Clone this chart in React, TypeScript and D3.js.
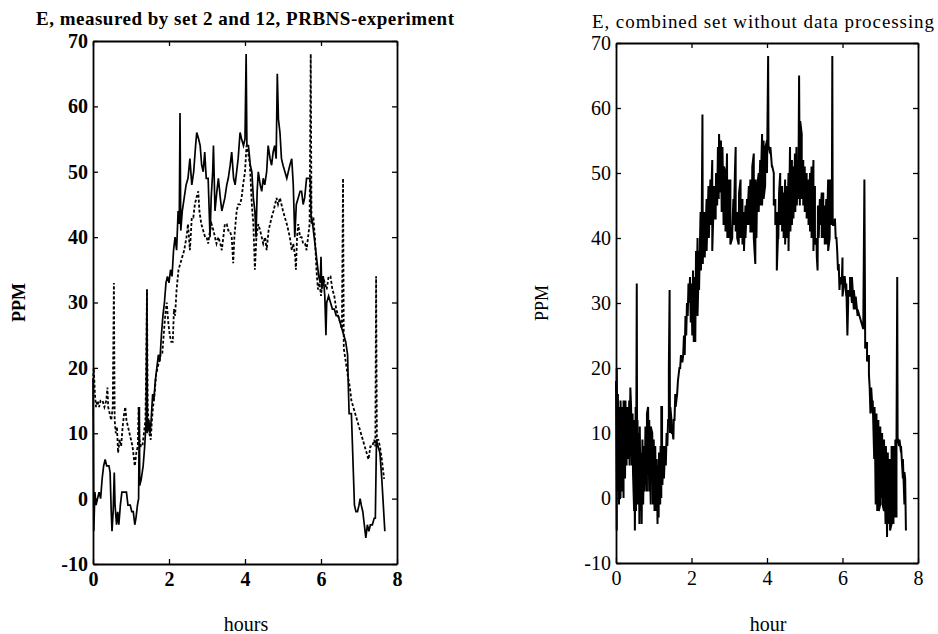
import React, { useEffect, useRef } from 'react';
import * as d3 from 'd3';

// set 2 (solid line), [hour, ppm]
const set2: [number, number][] = [
  [0, 18], [0.02, -5], [0.05, 1], [0.08, -1], [0.12, 0], [0.16, 1], [0.2, 0], [0.24, 3],
  [0.28, 5], [0.32, 6], [0.36, 5], [0.42, 5], [0.45, 4], [0.48, -2], [0.5, -5], [0.53, -2],
  [0.56, 4], [0.58, -1], [0.62, -4], [0.65, -2], [0.68, -4], [0.72, -1], [0.76, 1], [0.82, 1],
  [0.88, 1], [0.92, -1], [0.98, -1], [1.02, -2], [1.06, -2], [1.1, -4], [1.13, -3], [1.17, -1],
  [1.2, 0], [1.22, 14], [1.23, 2], [1.27, 3], [1.32, 5], [1.36, 8], [1.4, 12], [1.42, 32],
  [1.43, 10], [1.47, 12], [1.5, 10], [1.53, 12], [1.57, 16], [1.6, 15], [1.64, 18], [1.68, 20],
  [1.72, 22], [1.76, 21], [1.8, 25], [1.84, 28], [1.88, 30], [1.92, 33], [1.96, 34], [2.0, 33],
  [2.04, 35], [2.08, 34], [2.12, 38], [2.16, 40], [2.2, 38], [2.24, 44], [2.27, 42], [2.29, 59],
  [2.31, 41], [2.35, 44], [2.4, 46], [2.45, 48], [2.5, 49], [2.55, 52], [2.6, 48], [2.65, 50],
  [2.7, 54], [2.73, 56], [2.78, 55], [2.82, 54], [2.86, 51], [2.9, 50], [2.94, 53], [2.98, 49],
  [3.03, 49], [3.08, 40], [3.11, 46], [3.15, 50], [3.17, 54], [3.21, 44], [3.26, 47], [3.3, 49],
  [3.35, 46], [3.39, 44], [3.43, 45], [3.47, 46], [3.52, 48], [3.56, 49], [3.61, 51], [3.65, 53],
  [3.7, 49], [3.74, 48], [3.78, 50], [3.82, 52], [3.87, 56], [3.91, 55], [3.96, 54], [4.0, 55],
  [4.03, 68], [4.05, 54], [4.09, 54], [4.14, 51], [4.18, 50], [4.22, 46], [4.26, 44], [4.29, 40],
  [4.32, 47], [4.35, 50], [4.4, 48], [4.44, 47], [4.48, 49], [4.52, 48], [4.57, 50], [4.61, 54],
  [4.66, 52], [4.7, 51], [4.74, 53], [4.78, 54], [4.82, 52], [4.85, 65], [4.88, 58], [4.92, 56],
  [4.96, 52], [5.0, 51], [5.05, 50], [5.1, 49], [5.14, 50], [5.18, 51], [5.23, 52], [5.27, 48],
  [5.31, 40], [5.35, 45], [5.4, 46], [5.45, 47], [5.49, 47], [5.53, 45], [5.57, 46], [5.62, 49],
  [5.67, 49], [5.72, 49], [5.74, 43], [5.78, 42], [5.82, 40], [5.86, 38], [5.9, 36], [5.94, 34],
  [5.98, 33], [6.0, 37], [6.02, 32], [6.06, 34], [6.1, 31], [6.13, 25], [6.15, 30], [6.2, 31],
  [6.25, 30], [6.3, 29], [6.35, 29], [6.4, 28], [6.45, 28], [6.5, 27], [6.55, 26], [6.6, 25],
  [6.65, 24], [6.7, 22], [6.72, 17], [6.74, 13], [6.8, 13], [6.84, 6], [6.88, -1], [6.92, -2],
  [6.96, -2], [7.0, -1], [7.03, 0], [7.06, -1], [7.1, -2], [7.14, -4], [7.18, -6], [7.22, -4],
  [7.26, -5], [7.3, -4], [7.35, -4], [7.4, -3], [7.43, -3], [7.46, 9], [7.5, 8], [7.55, 7],
  [7.6, 3], [7.64, -1], [7.68, -5]
];

// set 12 (dashed line), [hour, ppm]
const set12: [number, number][] = [
  [0, 18], [0.02, 20], [0.05, 16], [0.08, 14], [0.12, 15], [0.16, 14], [0.2, 15], [0.25, 15],
  [0.3, 14], [0.35, 15], [0.38, 17], [0.4, 14], [0.44, 13], [0.48, 12], [0.52, 14], [0.55, 33],
  [0.57, 12], [0.6, 10], [0.63, 11], [0.66, 7], [0.7, 9], [0.74, 8], [0.78, 11], [0.82, 13],
  [0.85, 14], [0.88, 12], [0.92, 11], [0.96, 10], [1.0, 9], [1.04, 8], [1.08, 6], [1.1, 5],
  [1.14, 7], [1.18, 8], [1.2, 14], [1.22, 9], [1.26, 8], [1.3, 8], [1.34, 10], [1.38, 12],
  [1.4, 20], [1.42, 32], [1.44, 14], [1.48, 10], [1.52, 9], [1.55, 12], [1.58, 14], [1.62, 16],
  [1.66, 19], [1.7, 20], [1.74, 21], [1.78, 22], [1.82, 22], [1.86, 25], [1.9, 28], [1.94, 30],
  [1.98, 27], [2.02, 25], [2.06, 24], [2.1, 24], [2.13, 29], [2.16, 28], [2.2, 32], [2.25, 35],
  [2.3, 36], [2.35, 37], [2.4, 38], [2.46, 40], [2.5, 42], [2.55, 38], [2.6, 43], [2.64, 43],
  [2.68, 45], [2.72, 46], [2.77, 47], [2.8, 44], [2.85, 42], [2.9, 41], [2.95, 40], [2.99, 40],
  [3.03, 39], [3.08, 41], [3.12, 42], [3.17, 41], [3.21, 40], [3.25, 39], [3.3, 40], [3.35, 39],
  [3.39, 38], [3.43, 40], [3.47, 42], [3.52, 42], [3.56, 41], [3.6, 41], [3.65, 40], [3.69, 36],
  [3.72, 40], [3.78, 44], [3.82, 45], [3.87, 45], [3.91, 46], [3.95, 48], [4.0, 50], [4.04, 54],
  [4.08, 53], [4.13, 51], [4.18, 45], [4.22, 42], [4.26, 35], [4.3, 40], [4.35, 42], [4.4, 41],
  [4.44, 40], [4.48, 39], [4.53, 40], [4.57, 38], [4.62, 41], [4.66, 42], [4.7, 43], [4.75, 44],
  [4.79, 45], [4.83, 46], [4.87, 45], [4.92, 46], [4.96, 45], [5.0, 44], [5.05, 43], [5.1, 42],
  [5.14, 41], [5.18, 40], [5.23, 38], [5.27, 39], [5.32, 37], [5.34, 35], [5.37, 40], [5.4, 42],
  [5.45, 40], [5.49, 40], [5.53, 39], [5.58, 39], [5.62, 38], [5.66, 40], [5.7, 42], [5.73, 68],
  [5.75, 42], [5.8, 43], [5.84, 40], [5.88, 35], [5.92, 32], [5.96, 33], [6.0, 31], [6.05, 34],
  [6.1, 33], [6.15, 32], [6.2, 34], [6.25, 34], [6.3, 32], [6.35, 31], [6.4, 29], [6.45, 28],
  [6.5, 27], [6.55, 26], [6.58, 49], [6.6, 23], [6.65, 21], [6.7, 19], [6.76, 17], [6.8, 15],
  [6.85, 14], [6.9, 13], [6.95, 12], [7.0, 11], [7.05, 10], [7.1, 9], [7.15, 8], [7.2, 7],
  [7.25, 6], [7.3, 8], [7.35, 8], [7.4, 9], [7.43, 8], [7.45, 34], [7.47, 9], [7.51, 9],
  [7.55, 8], [7.6, 6], [7.64, 4], [7.66, 3]
];

const xTicks = [0, 2, 4, 6, 8];
const yTicks = [-10, 0, 10, 20, 30, 40, 50, 60, 70];

const width = 938,
  height = 634;

type Series = { data: [number, number][]; dash?: string; strokeWidth: number };

type Panel = {
  left: number;
  right: number;
  top: number;
  bottom: number;
  title: string;
  titleX: number;
  titleY: number;
  titleWidth: number;
  bold: boolean;
  yLabelX: number;
  xLabel: string;
  xLabelX: number;
  series: Series[];
};

function drawPanel(svg: d3.Selection<SVGSVGElement, unknown, null, undefined>, p: Panel) {
  const weight = p.bold ? 'bold' : 'normal';
  const font = '"Liberation Serif", "Times New Roman", serif';

  const x = d3.scaleLinear().domain([0, 8]).range([p.left, p.right]);
  const y = d3.scaleLinear().domain([-10, 70]).range([p.bottom, p.top]);

  const g = svg.append('g');

  const line = d3
    .line<[number, number]>()
    .x(d => x(d[0]))
    .y(d => y(d[1]));

  p.series.forEach(s => {
    g.append('path')
      .datum(s.data)
      .attr('fill', 'none')
      .attr('stroke', '#000')
      .attr('stroke-width', s.strokeWidth)
      .attr('stroke-linejoin', 'miter')
      .attr('stroke-dasharray', s.dash || null)
      .attr('d', line);
  });

  const styleAxis = (a: d3.Selection<SVGGElement, unknown, null, undefined>) => {
    a.select('.domain').attr('stroke', '#000').attr('stroke-width', 1.8);
    a.selectAll('.tick line').attr('stroke', '#000').attr('stroke-width', 1.3);
    a.selectAll('.tick text')
      .attr('fill', '#000')
      .style('font-family', font)
      .style('font-size', '20px')
      .style('font-weight', weight);
  };

  g.append('g')
    .attr('transform', `translate(0,${p.bottom})`)
    .call(d3.axisBottom(x).tickValues(xTicks).tickFormat(d => String(d)).tickSizeInner(-5).tickSizeOuter(0).tickPadding(8))
    .call(styleAxis);

  g.append('g')
    .attr('transform', `translate(${p.left},0)`)
    .call(d3.axisLeft(y).tickValues(yTicks).tickFormat(d => String(d)).tickSizeInner(-5).tickSizeOuter(0).tickPadding(5))
    .call(styleAxis);

  g.append('g')
    .attr('transform', `translate(0,${p.top})`)
    .call(d3.axisTop(x).tickValues(xTicks).tickFormat(() => '').tickSizeInner(-5).tickSizeOuter(0))
    .call(styleAxis);

  g.append('g')
    .attr('transform', `translate(${p.right},0)`)
    .call(d3.axisRight(y).tickValues(yTicks).tickFormat(() => '').tickSizeInner(-5).tickSizeOuter(0))
    .call(styleAxis);

  g.append('text')
    .attr('x', p.titleX)
    .attr('y', p.titleY)
    .attr('text-anchor', 'middle')
    .attr('textLength', p.titleWidth)
    .style('font-family', font)
    .style('font-size', '19px')
    .style('font-weight', weight)
    .text(p.title);

  g.append('text')
    .attr('transform', `translate(${p.yLabelX},${(p.top + p.bottom) / 2}) rotate(-90)`)
    .attr('text-anchor', 'middle')
    .style('font-family', font)
    .style('font-size', '18px')
    .style('font-weight', weight)
    .text('PPM');

  g.append('text')
    .attr('x', p.xLabelX)
    .attr('y', 631)
    .attr('text-anchor', 'middle')
    .style('font-family', font)
    .style('font-size', '20px')
    .text(p.xLabel);
}

export default function App() {
  const ref = useRef<SVGSVGElement>(null);

  useEffect(() => {
    const svg = d3.select(ref.current as SVGSVGElement);
    svg.selectAll('*').remove();

    // combined set: both measuring sets merged in time order, no processing
    const combined = d3.merge<[number, number]>([set2, set12]).sort((a, b) => a[0] - b[0]);

    drawPanel(svg, {
      left: 93,
      right: 397,
      top: 41,
      bottom: 564,
      title: 'E, measured by set 2 and 12, PRBNS-experiment',
      titleX: 245,
      titleY: 25,
      titleWidth: 418,
      bold: true,
      yLabelX: 25,
      xLabel: 'hours',
      xLabelX: 246,
      series: [
        { data: set12, dash: '3,2', strokeWidth: 1.8 },
        { data: set2, strokeWidth: 1.7 }
      ]
    });

    drawPanel(svg, {
      left: 616,
      right: 918,
      top: 43,
      bottom: 563,
      title: 'E, combined set without data processing',
      titleX: 763,
      titleY: 28,
      titleWidth: 342,
      bold: false,
      yLabelX: 548,
      xLabel: 'hour',
      xLabelX: 768,
      series: [{ data: combined, strokeWidth: 2 }]
    });
  }, []);

  return (
    <svg
      ref={ref}
      width={width}
      height={height}
      style={{ position: 'absolute', left: 0, top: 0, background: '#fff' }}
    />
  );
}
